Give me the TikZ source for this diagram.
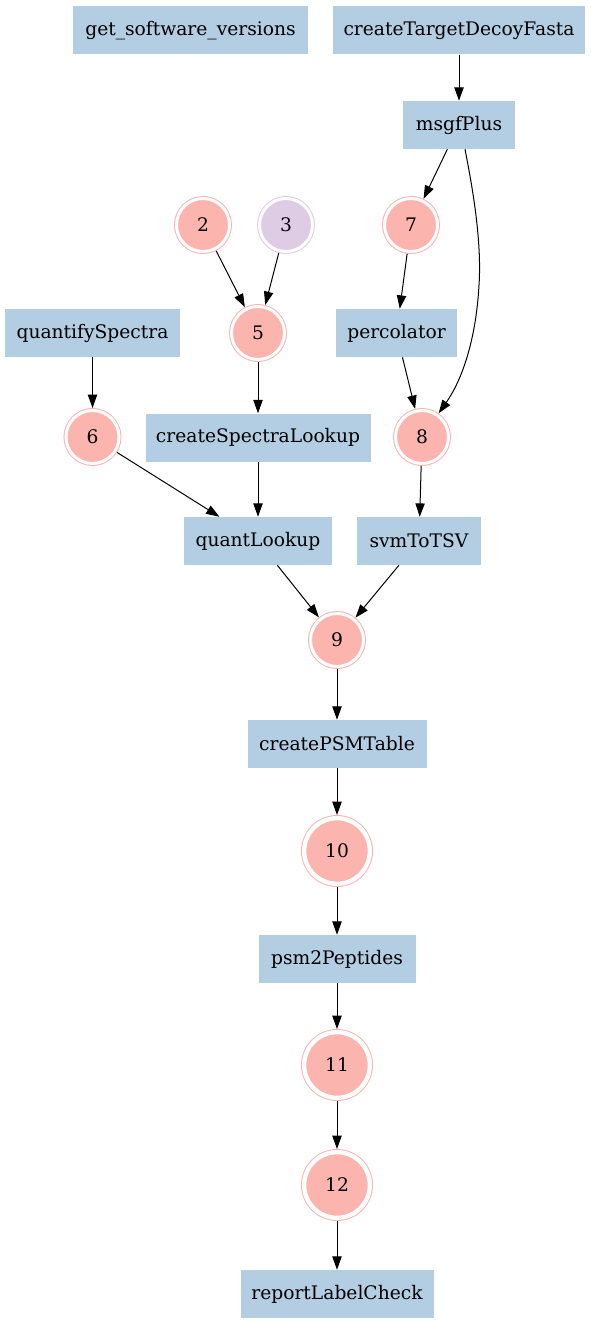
\documentclass[tikz,border=0pt]{standalone}
\usepackage{fontspec}
\setmainfont{DejaVu Serif}
\usetikzlibrary{arrows.meta,calc}
\definecolor{boxblue}{HTML}{B3CDE3}
\definecolor{pinkc}{HTML}{FBB4AE}
\definecolor{purplec}{HTML}{DECBE4}
\tikzset{
  proc/.style={rectangle, fill=boxblue, draw=none, minimum height=36pt, inner sep=2pt, font=\fontsize{14pt}{16pt}\selectfont},
  dsmall/.style={circle, fill=#1, draw=#1, double=white, line width=0.75pt, double distance=2.25pt, minimum size=39.75pt, inner sep=0pt, outer sep=1.875pt, font=\fontsize{14pt}{16pt}\selectfont},
  dbig/.style={circle, fill=#1, draw=#1, double=white, line width=0.75pt, double distance=3.25pt, minimum size=49.25pt, inner sep=0pt, outer sep=2.375pt, font=\fontsize{14pt}{16pt}\selectfont},
  edge/.style={-{Triangle[length=10pt,width=7pt]}, line width=0.75pt, black},
}
\begin{document}
\begin{tikzpicture}[x=0.75pt,y=-0.75pt]
\useasboundingbox (0,0) rectangle (591,1323);
\node[proc, minimum width=176.25pt] (gsv) at (190.5,30.5) {get\_software\_versions};
\node[proc, minimum width=189pt] (ctdf) at (459,30.5) {createTargetDecoyFasta};
\node[proc, minimum width=84pt] (msgf) at (459,125) {msgfPlus};
\node[dsmall=pinkc] (n2) at (203,225) {2};
\node[dsmall=purplec] (n3) at (286,225) {3};
\node[dsmall=pinkc] (n7) at (411,225) {7};
\node[dsmall=pinkc] (n5) at (258,333) {5};
\node[proc, minimum width=131.25pt] (qs) at (92.5,333) {quantifySpectra};
\node[proc, minimum width=90.75pt] (perc) at (396.5,333) {percolator};
\node[dsmall=pinkc] (n6) at (92.5,437) {6};
\node[proc, minimum width=168.75pt] (csl) at (258,437.5) {createSpectraLookup};
\node[dsmall=pinkc] (n8) at (422,437) {8};
\node[proc, minimum width=111pt] (ql) at (258,541) {quantLookup};
\node[proc, minimum width=93pt] (svm) at (419,541) {svmToTSV};
\node[dsmall=pinkc] (n9) at (337,640) {9};
\node[proc, minimum width=134.25pt] (cpsm) at (337,744) {createPSMTable};
\node[dbig=pinkc] (n10) at (337,851) {10};
\node[proc, minimum width=117.75pt] (psm2) at (337,959) {psm2Peptides};
\node[dbig=pinkc] (n11) at (337,1065) {11};
\node[dbig=pinkc] (n12) at (337,1185) {12};
\node[proc, minimum width=144.75pt] (rlc) at (337,1294) {reportLabelCheck};

\coordinate (mstart) at ($(msgf.south)+(6,0)$);
\coordinate (mvia) at (479,285);

\draw[edge] (ctdf) -- (msgf);
\draw[edge] (msgf) -- (n7);
\draw[edge] (mstart) .. controls (472,185) and (482,240) .. (mvia) .. controls (476,340) and (462,380) .. (n8);
\draw[edge] (n2) -- (n5);
\draw[edge] (n3) -- (n5);
\draw[edge] (n7) -- (perc);
\draw[edge] (perc) -- (n8);
\draw[edge] (qs) -- (n6);
\draw[edge] (n5) -- (csl);
\draw[edge] (n6) -- (ql);
\draw[edge] (csl) -- (ql);
\draw[edge] (n8) -- (svm);
\draw[edge] (ql) -- (n9);
\draw[edge] (svm) -- (n9);
\draw[edge] (n9) -- (cpsm);
\draw[edge] (cpsm) -- (n10);
\draw[edge] (n10) -- (psm2);
\draw[edge] (psm2) -- (n11);
\draw[edge] (n11) -- (n12);
\draw[edge] (n12) -- (rlc);
\end{tikzpicture}
\end{document}
